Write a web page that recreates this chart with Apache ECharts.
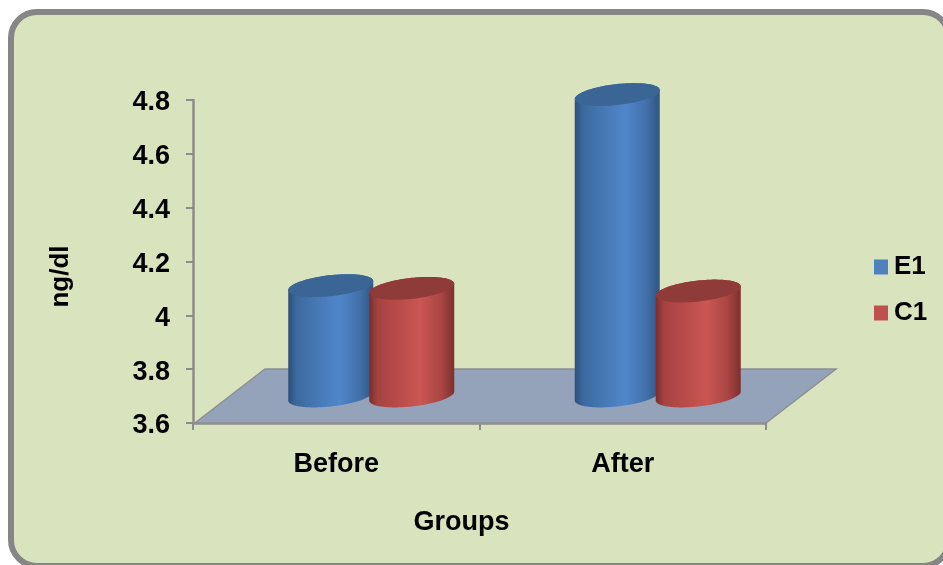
<!DOCTYPE html>
<html>
<head>
<meta charset="utf-8">
<style>html,body{margin:0;padding:0;background:#fff}#chart{width:943px;height:565px}</style>
<script src="https://cdn.jsdelivr.net/npm/echarts@6/dist/echarts.min.js"></script>
</head>
<body>
<div id="chart"></div>
<script>
// Mean concentration per group, ng/dl
const categories = ['Before', 'After'];
const e1Values = [4.01, 4.72];
const c1Values = [4.0, 3.99];
const axisMin = 3.6;
const axisMax = 4.8;
const axisStep = 0.2;

const FONT = '"Liberation Sans", Arial, sans-serif';
const DEPTH_X = 70, DEPTH_Y = 54;      // floor receding offset in pixels
const BAR_WIDTH = 85, BAR_SHIFT = 40.5; // cylinder width and offset from group centre
const RY = 10.5, TILT = 4.5;            // elliptical end caps

function ellipsePoint(cx, cy, t) {
  return [cx + BAR_WIDTH / 2 * Math.cos(t), cy + RY * Math.sin(t) - TILT * Math.cos(t)];
}

function sideFill(stops) {
  return new echarts.graphic.LinearGradient(0, 0, 1, 0,
    stops.map(function (s) { return { offset: s[0], color: s[1] }; }));
}

function cylinder(shift, palette) {
  return function (params, api) {
    const base = api.coord([api.value(0), axisMin]);
    const top = api.coord([api.value(0), api.value(1)]);
    const cx = base[0] + shift + DEPTH_X / 2;
    const yBase = base[1] - DEPTH_Y / 2;
    const yTop = top[1] - DEPTH_Y / 2;
    const side = [], cap = [];
    const N = 72;
    for (let i = 0; i <= N; i++) {            // upper rim, left to right
      side.push(ellipsePoint(cx, yTop, Math.PI + Math.PI * i / N));
    }
    for (let i = 0; i <= N; i++) {            // lower rim, right to left
      side.push(ellipsePoint(cx, yBase, Math.PI * i / N));
    }
    for (let i = 0; i < N * 2; i++) {
      cap.push(ellipsePoint(cx, yTop, Math.PI * i / N));
    }
    return {
      type: 'group',
      children: [
        { type: 'polygon', shape: { points: side }, style: { fill: sideFill(palette.side) } },
        { type: 'polygon', shape: { points: cap }, style: { fill: palette.cap } }
      ]
    };
  };
}

const bluePalette = {
  cap: '#3A6595',
  side: [[0, '#2B4F7A'], [0.1, '#3C6A9F'], [0.3, '#4576B0'], [0.6, '#5086CA'], [0.85, '#416FA8'], [1, '#2F5581']]
};
const redPalette = {
  cap: '#8F3B39',
  side: [[0, '#7A2E2C'], [0.1, '#A54341'], [0.3, '#B54A48'], [0.6, '#CB5653'], [0.85, '#A94543'], [1, '#7C302E']]
};

function floor(params, api) {
  const p0 = api.coord([0, axisMin]);
  const band = api.size([1, 0])[0];
  const x0 = p0[0] - band / 2, y0 = p0[1];
  const x1 = x0 + band * categories.length;
  return {
    type: 'polygon',
    shape: { points: [[x0 + 2, y0], [x1, y0], [x1 + DEPTH_X, y0 - DEPTH_Y], [x0 + DEPTH_X + 2, y0 - DEPTH_Y]] },
    style: { fill: '#94A3B9', stroke: '#8C9190', lineWidth: 1.5 }
  };
}

const chart = echarts.init(document.getElementById('chart'), null, { renderer: 'canvas' });
chart.setOption({
  animation: false,
  backgroundColor: '#ffffff',
  graphic: [{
    type: 'rect', z: -10, silent: true,
    shape: { x: 11, y: 12, width: 938, height: 554, r: 26 },
    style: { fill: '#D9E3BD', stroke: '#868686', lineWidth: 6 }
  }],
  grid: { left: 193, right: 177, top: 100, bottom: 142 },
  legend: {
    data: ['E1', 'C1'],
    orient: 'vertical', left: 869, top: 249,
    icon: 'rect', itemWidth: 14, itemHeight: 15, itemGap: 20,
    textStyle: { fontFamily: FONT, fontWeight: 'bold', fontSize: 26, color: '#000', padding: [0, 0, 0, 1] }
  },
  xAxis: {
    type: 'category', data: categories,
    name: 'Groups', nameLocation: 'middle', nameGap: 86,
    nameTextStyle: { fontFamily: FONT, fontWeight: 'bold', fontSize: 27, color: '#000', padding: [0, 36, 0, 0] },
    axisLine: { lineStyle: { color: '#8C8C8C', width: 2.5 } },
    axisTick: { show: true, alignWithLabel: false, length: 7, lineStyle: { color: '#8C8C8C', width: 2 } },
    axisLabel: { fontFamily: FONT, fontWeight: 'bold', fontSize: 27, color: '#000', margin: 28 }
  },
  yAxis: {
    type: 'value', min: axisMin, max: axisMax, interval: axisStep,
    name: 'ng/dl', nameLocation: 'middle', nameGap: 119,
    nameTextStyle: { fontFamily: FONT, fontWeight: 'bold', fontSize: 26, color: '#000', padding: [0, 30, 0, 0] },
    axisLine: { show: true, lineStyle: { color: '#8C8C8C', width: 2.5 } },
    axisTick: { show: true, length: 7, lineStyle: { color: '#8C8C8C', width: 2 } },
    splitLine: { show: false },
    axisLabel: {
      margin: 23,
      formatter: '{tick|{value}}',
      rich: { tick: { fontFamily: FONT, fontWeight: 'bold', fontSize: 27, color: '#000', padding: [6, 0, 0, 0] } }
    }
  },
  series: [
    { name: 'floor', type: 'custom', renderItem: floor, data: [[0, axisMin]], z: 1, silent: true },
    {
      name: 'E1', type: 'custom', renderItem: cylinder(-BAR_SHIFT, bluePalette), z: 2,
      itemStyle: { color: '#4F81BD' },
      data: e1Values.map(function (v, i) { return [i, v]; })
    },
    {
      name: 'C1', type: 'custom', renderItem: cylinder(BAR_SHIFT, redPalette), z: 3,
      itemStyle: { color: '#C0504D' },
      data: c1Values.map(function (v, i) { return [i, v]; })
    }
  ]
});
</script>
</body>
</html>
